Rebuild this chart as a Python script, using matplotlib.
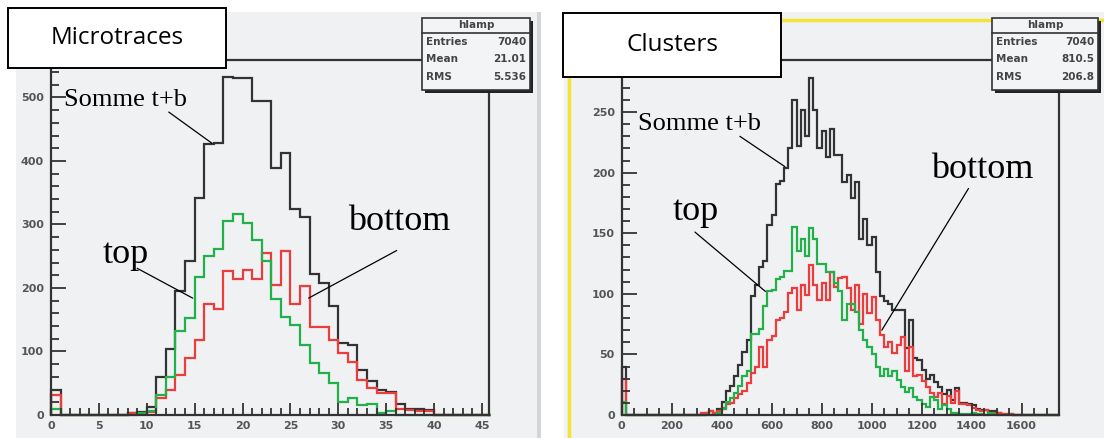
import numpy as np
import matplotlib.pyplot as plt
from matplotlib.patches import Rectangle
from matplotlib.ticker import MultipleLocator

W, H = 1104, 438

# ---- Microtraces: one bin per unit, 0..46
micro_edges = np.arange(0, 47)
micro_sum = [39, 0, 0, 0, 0, 0, 0, 0, 3, 5, 12, 60, 104, 195, 242, 342, 426, 429, 532, 530,
             530, 495, 495, 389, 413, 324, 311, 222, 208, 171, 113, 110, 71, 53, 39, 37, 18, 10,
             10, 8, 0, 0, 0, 0, 0, 0]
micro_top = [10, 0, 0, 0, 0, 0, 0, 0, 0, 3, 7, 32, 60, 132, 153, 217, 250, 262, 305, 316,
             303, 276, 242, 182, 155, 142, 111, 82, 66, 50, 21, 26, 16, 18, 3, 7, 0, 0,
             0, 0, 0, 0, 0, 0, 0, 0]
micro_bottom = [32, 0, 0, 0, 0, 0, 0, 0, 3, 2, 5, 26, 39, 63, 89, 118, 174, 167, 226, 214,
                229, 214, 255, 205, 258, 174, 203, 139, 139, 118, 97, 84, 55, 42, 34, 34, 10, 8,
                7, 7, 0, 0, 0, 0, 0, 0]

# ---- Clusters: 105 bins over 0..1750
clus_edges = np.linspace(0, 1750, 106)
clus_sum = ([40] + [0] * 19 + [2, 3, 2, 5] +
            [11, 20, 24, 32, 41, 52, 62] +
            [98, 107, 122, 127, 157, 165, 191, 193, 204, 220] +
            [260, 222, 252, 230, 278, 252, 220, 234, 213, 236] +
            [215, 215, 192, 198, 179, 192, 145, 162, 140, 147] +
            [118, 98, 94, 92, 87, 87, 87, 55, 78, 47] +
            [45, 37, 30, 33, 27, 23, 17, 21, 12, 22] +
            [10, 10, 9, 8, 5, 4, 4, 3, 3, 2] +
            [1, 1, 1, 0, 0, 0, 0, 0, 0] + [0] * 5)
clus_top = ([11] + [0] * 22 + [2] +
            [5, 11, 14, 18, 24, 32, 36] +
            [67, 67, 71, 90, 102, 103, 112, 114, 119, 119] +
            [155, 135, 145, 131, 154, 145, 125, 125, 118, 118] +
            [109, 102, 78, 92, 92, 85, 70, 62, 56, 50] +
            [40, 32, 38, 32, 36, 29, 23, 19, 22, 15] +
            [12, 9, 7, 15, 12, 5, 8, 5, 2, 2] +
            [1, 1, 1, 2, 1, 1, 0, 2, 1, 0] +
            [0] * 9 + [0] * 5)
clus_bottom = ([30] + [0] * 18 + [2, 2, 3, 2, 3] +
               [6, 9, 10, 14, 17, 20, 26] +
               [35, 40, 56, 40, 62, 65, 78, 80, 85, 101] +
               [105, 87, 107, 99, 124, 107, 95, 109, 95, 118] +
               [106, 113, 114, 105, 87, 107, 75, 100, 84, 97] +
               [78, 66, 56, 60, 51, 58, 64, 36, 56, 32] +
               [33, 28, 23, 18, 15, 18, 9, 16, 10, 20] +
               [9, 9, 8, 6, 4, 3, 4, 1, 2, 2] +
               [1, 1, 1, 0, 0, 0, 0, 0, 0] + [0] * 5)

stats_micro = ("hlamp", "7040", "21.01", "5.536")
stats_clus = ("hlamp", "7040", "810.5", "206.8")

GRAY = '#eff1f3'
C_SUM, C_TOP, C_BOT = '#333333', '#22b04a', '#ee3b3b'
SERIF = 'Liberation Serif'

fig = plt.figure(figsize=(W / 100, H / 100), dpi=100)
fig.patch.set_facecolor('white')


def rect(x0, y0, x1, y1, **kw):
    fig.patches.append(Rectangle((x0 / W, 1 - y1 / H), (x1 - x0) / W, (y1 - y0) / H,
                                 transform=fig.transFigure, **kw))


def ftext(x, y, s, **kw):
    fig.text(x / W, 1 - y / H, s, **kw)


def fline(xs, ys, **kw):
    fig.add_artist(plt.Line2D([x / W for x in xs], [1 - y / H for y in ys],
                              transform=fig.transFigure, **kw))


# canvases
rect(16, 12, 537, H, facecolor=GRAY, edgecolor='none', zorder=-10)
rect(537, 12, 541, H, facecolor='#d3d5d8', edgecolor='none', zorder=-10)
rect(564, 12, W, H, facecolor=GRAY, edgecolor='none', zorder=-10)
fline([569, 569], [20, H], color='#f2e435', lw=2.5, zorder=-5)
fline([569, W], [20, 20], color='#f2e435', lw=2.5, zorder=-5)


def setup(ax, xmax, ymax, xmaj, xmin, ymaj, ymin):
    ax.set_xlim(0, xmax)
    ax.set_ylim(0, ymax)
    ax.set_facecolor('none')
    for s in ax.spines.values():
        s.set_color('#333333')
        s.set_linewidth(1.6)
    ax.xaxis.set_major_locator(MultipleLocator(xmaj))
    ax.xaxis.set_minor_locator(MultipleLocator(xmin))
    ax.yaxis.set_major_locator(MultipleLocator(ymaj))
    ax.yaxis.set_minor_locator(MultipleLocator(ymin))
    ax.tick_params(which='both', direction='in', color='#333333', width=1.3,
                   top=False, right=False, labelsize=8, labelcolor='#555555')
    ax.tick_params(axis='y', which='major', length=11, pad=5)
    ax.tick_params(axis='y', which='minor', length=6)
    ax.tick_params(axis='x', which='major', length=9, pad=4)
    ax.tick_params(axis='x', which='minor', length=5)
    plt.setp(ax.get_xticklabels() + ax.get_yticklabels(), fontweight='bold')


def axes_at(x0, y0, x1, y1):
    return fig.add_axes([x0 / W, 1 - y1 / H, (x1 - x0) / W, (y1 - y0) / H])


ax1 = axes_at(51, 60, 488.6, 415)
setup(ax1, 45.7, 559, 5, 1, 100, 20)
ax2 = axes_at(621.7, 60, 1059, 415)
setup(ax2, 1750, 293, 200, 50, 50, 10)

for ax, edges, s, t, b in [(ax1, micro_edges, micro_sum, micro_top, micro_bottom),
                           (ax2, clus_edges, clus_sum, clus_top, clus_bottom)]:
    ax.stairs(s, edges, color=C_SUM, lw=1.6, clip_on=False)
    ax.stairs(b, edges, color=C_BOT, lw=1.6, clip_on=False)
    ax.stairs(t, edges, color=C_TOP, lw=1.6, clip_on=False)


def label(ax, s, xy, start, end, size):
    ax.text(xy[0], xy[1], s, fontsize=size, family=SERIF, ha='center', va='center')
    ax.annotate('', xy=end, xytext=start,
                arrowprops=dict(arrowstyle='-', lw=0.9, color='black',
                                shrinkA=0, shrinkB=0))


label(ax1, 'Somme t+b', (7.8, 496), (12.3, 477), (16.8, 428), 19)
label(ax1, 'top', (7.8, 252), (9.0, 231), (14.8, 184), 26)
label(ax1, 'bottom', (36.4, 304), (36.1, 259), (26.9, 184), 26)
label(ax2, 'Somme t+b', (311, 240), (473, 230), (653, 205), 19)
label(ax2, 'top', (297, 168), (293, 151), (575, 102), 26)
label(ax2, 'bottom', (1441, 203), (1388, 187), (1041, 70), 26)


def stats_box(x0, y0, x1, y1, st):
    name, entries, mean, rms = st
    rect(x0 + 3, y0 + 3, x1 + 3, y1 + 3, facecolor='#222222', edgecolor='none', zorder=5)
    rect(x0, y0, x1, y1, facecolor='#f3f4f6', edgecolor='#333333', lw=1.2, zorder=6)
    fline([x0, x1], [y0 + 15, y0 + 15], color='#333333', lw=1.2, zorder=7)
    kw = dict(fontsize=7.5, fontweight='bold', color='#444444', va='center', zorder=8)
    ftext((x0 + x1) / 2, y0 + 7.5, name, ha='center', **kw)
    for i, (k, v) in enumerate([('Entries', entries), ('Mean', mean), ('RMS', rms)]):
        yy = y0 + 24 + i * 17.5
        ftext(x0 + 4, yy, k, ha='left', **kw)
        ftext(x1 - 4, yy, v, ha='right', **kw)


stats_box(422, 18, 530, 90, stats_micro)
stats_box(992, 18, 1098, 90, stats_clus)


def title_box(x0, y0, x1, y1, s):
    rect(x0, y0, x1, y1, facecolor='white', edgecolor='black', lw=1.4, zorder=6)
    ftext((x0 + x1) / 2, (y0 + y1) / 2, s, ha='center', va='center',
          fontsize=17.5, family='Open Sans', zorder=8)


title_box(8, 8, 226, 68, 'Microtraces')
title_box(563, 13, 781, 77, 'Clusters')

fig.savefig('out.png', dpi=100)
